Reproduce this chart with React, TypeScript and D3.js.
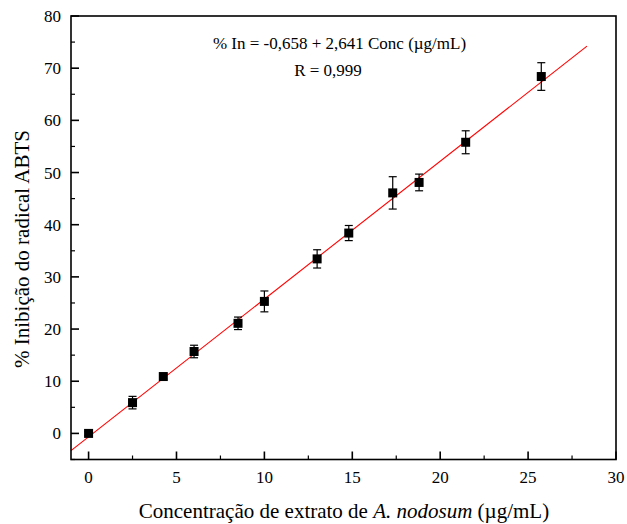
import React from "react";
import * as d3 from "d3";

const concentrations = [0, 2.5, 4.25, 6, 8.5, 10, 13, 14.8, 17.3, 18.8, 21.45, 25.75];
const inhibition = [0, 5.9, 10.9, 15.7, 21.1, 25.3, 33.45, 38.4, 46.1, 48.1, 55.8, 68.4];
const errors = [0.4, 1.2, 0.5, 1.2, 1.2, 2.0, 1.75, 1.45, 3.1, 1.6, 2.2, 2.65];
const xTicks = [0, 5, 10, 15, 20, 25, 30];
const yTicks = [0, 10, 20, 30, 40, 50, 60, 70, 80];
const fitIntercept = -0.658;
const fitSlope = 2.641;
const fitRange = [-1, 28.35];

const W = 627;
const H = 524;
const left = 71;
const right = 616;
const top = 16;
const bottom = 459.5;
const font = "Liberation Serif";

export default function App() {
  const x = d3.scaleLinear().domain([-1, 30]).range([left, right]);
  const y = d3.scaleLinear().domain([-5, 80]).range([bottom, top]);
  const xMinor = d3.range(0, 30.01, 2.5).filter((v) => v % 5 !== 0);
  const yMinor = d3.range(-5, 80.01, 5).filter((v) => v % 10 !== 0);
  const line = d3
    .line<number>()
    .x((d) => x(d))
    .y((d) => y(fitIntercept + fitSlope * d));
  const sq = 9;
  const cap = 4;
  return (
    <svg width={W} height={H} style={{ position: "absolute", left: 0, top: 0, background: "#fff" }}>
      <rect x={0} y={0} width={W} height={H} fill="#fff" />
      <path d={line(fitRange) || ""} stroke="#ff0000" strokeWidth={1.1} fill="none" />
      {concentrations.map((c, i) => {
        const cx = x(c);
        const y1 = y(inhibition[i] + errors[i]);
        const y2 = y(inhibition[i] - errors[i]);
        return (
          <g key={"e" + i} stroke="#000" strokeWidth={1.2}>
            <line x1={cx} x2={cx} y1={y1} y2={y2} />
            <line x1={cx - cap} x2={cx + cap} y1={y1} y2={y1} />
            <line x1={cx - cap} x2={cx + cap} y1={y2} y2={y2} />
          </g>
        );
      })}
      {concentrations.map((c, i) => (
        <rect
          key={"m" + i}
          x={x(c) - sq / 2}
          y={y(inhibition[i]) - sq / 2}
          width={sq}
          height={sq}
          fill="#000"
        />
      ))}
      <rect x={left} y={top} width={right - left} height={bottom - top} fill="none" stroke="#000" strokeWidth={1.6} />
      {xTicks.map((t) => (
        <g key={"xt" + t}>
          <line x1={x(t)} x2={x(t)} y1={bottom} y2={bottom - 8} stroke="#000" strokeWidth={1.6} />
          <text x={x(t)} y={bottom + 23} textAnchor="middle" fontFamily={font} fontSize={17} fill="#000">
            {t}
          </text>
        </g>
      ))}
      {xMinor.map((t) => (
        <line key={"xm" + t} x1={x(t)} x2={x(t)} y1={bottom} y2={bottom - 4} stroke="#000" strokeWidth={1.2} />
      ))}
      {yTicks.map((t) => (
        <g key={"yt" + t}>
          <line x1={left} x2={left + 8} y1={y(t)} y2={y(t)} stroke="#000" strokeWidth={1.6} />
          <text x={left - 10} y={y(t) + 6} textAnchor="end" fontFamily={font} fontSize={17} fill="#000">
            {t}
          </text>
        </g>
      ))}
      {yMinor.map((t) => (
        <line key={"ym" + t} x1={left} x2={left + 4} y1={y(t)} y2={y(t)} stroke="#000" strokeWidth={1.2} />
      ))}
      <text x={339.5} y={49} textAnchor="middle" fontFamily={font} fontSize={17} fill="#000">
        % In = -0,658 + 2,641 Conc (µg/mL)
      </text>
      <text x={328} y={76} textAnchor="middle" fontFamily={font} fontSize={17} fill="#000">
        R = 0,999
      </text>
      <text x={344} y={518} textAnchor="middle" fontFamily={font} fontSize={21} fill="#000">
        Concentração de extrato de <tspan fontStyle="italic">A. nodosum</tspan> (µg/mL)
      </text>
      <text
        transform="translate(28.5, 249) rotate(-90)"
        textAnchor="middle"
        fontFamily={font}
        fontSize={21}
        fill="#000"
      >
        % Inibição do radical ABTS
      </text>
    </svg>
  );
}
